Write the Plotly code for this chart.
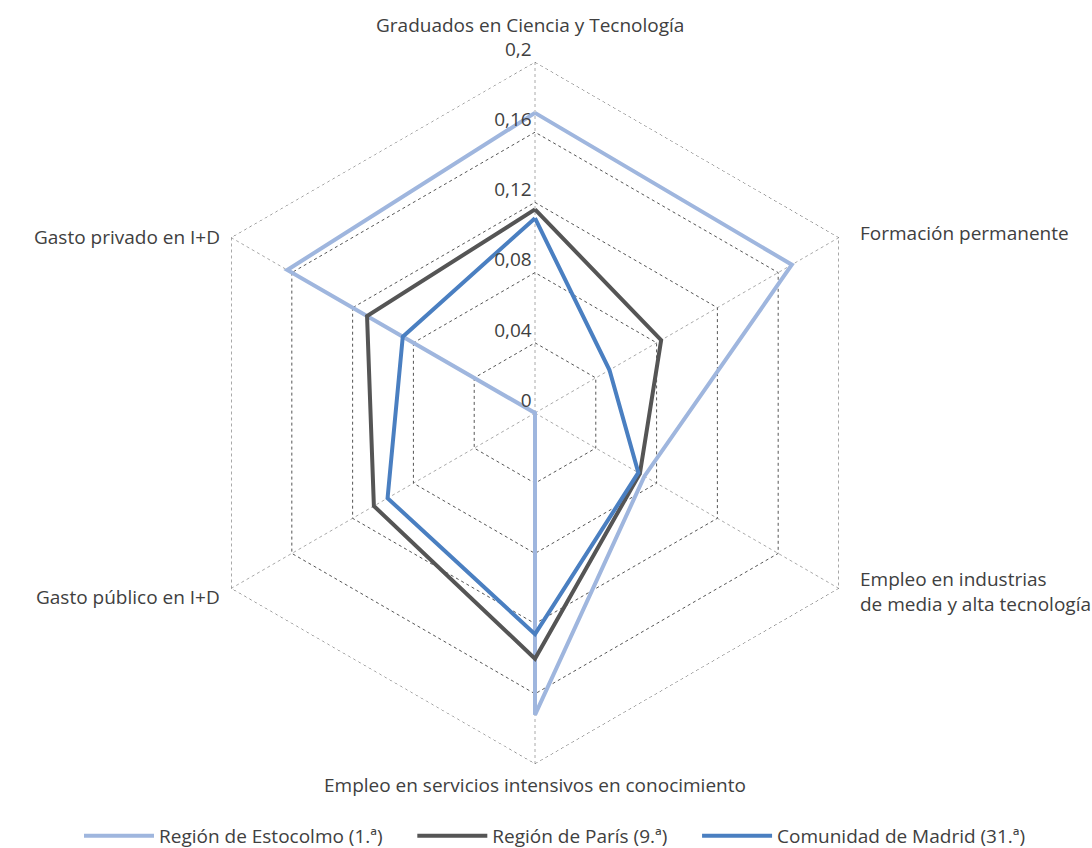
import plotly.graph_objects as go

categories = [
    "Graduados en Ciencia y Tecnología",
    "Formación permanente",
    "Empleo en industrias de media y alta tecnología",
    "Empleo en servicios intensivos en conocimiento",
    "Gasto público en I+D",
    "Gasto privado en I+D",
]
axis_labels = [
    "Graduados en Ciencia y Tecnología",
    "Formación permanente",
    "Empleo en industrias<br>de media y alta tecnología",
    "Empleo en servicios intensivos en conocimiento",
    "Gasto público en I+D",
    "Gasto privado en I+D",
]
series_names = ["Región de Estocolmo (1.ª)", "Región de París (9.ª)", "Comunidad de Madrid (31.ª)"]
estocolmo = [0.171, 0.169, 0.072, 0.172, 0.0, 0.163]
paris = [0.116, 0.083, 0.069, 0.140, 0.106, 0.1105]
madrid = [0.111, 0.049, 0.068, 0.126, 0.097, 0.087]
tick_vals = [0, 0.04, 0.08, 0.12, 0.16, 0.2]
tick_text = ["0", "0,04", "0,08", "0,12", "0,16", "0,2"]

colors = ["#9FB6DE", "#555555", "#4A7FC1"]
widths = [4, 4, 4]
FONT = "Open Sans"
TXT = "#404040"
FS = 19
PAD = "\u00a0" * 5  # extra gap between legend entries

fig = go.Figure()

# outer ring of the grid (at the top tick value), dotted like the other rings
fig.add_trace(go.Scatterpolar(
    r=[tick_vals[-1]] * (len(categories) + 1),
    theta=categories + categories[:1],
    mode="lines", showlegend=False, hoverinfo="skip",
    line=dict(color="#555555", width=1, dash="dot"),
))

for i, (name, vals, c, w) in enumerate(zip(series_names, [estocolmo, paris, madrid], colors, widths)):
    fig.add_trace(go.Scatterpolar(
        r=vals + vals[:1],
        theta=categories + categories[:1],
        mode="lines",
        name=name + (PAD if i < len(series_names) - 1 else ""),
        line=dict(color=c, width=w),
    ))

fig.update_layout(
    width=1092, height=848,
    margin=dict(l=0, r=0, t=0, b=0, autoexpand=False),
    paper_bgcolor="white",
    font=dict(family=FONT, size=FS, color=TXT),
    showlegend=True,
    legend=dict(orientation="h", x=555 / 1092, xanchor="center",
                y=1 - 836 / 848, yanchor="middle",
                font=dict(size=FS, color=TXT), itemwidth=70),
    polar=dict(
        domain=dict(x=[184 / 1092, 886 / 1092], y=[1 - 764 / 848, 1 - 62 / 848]),
        bgcolor="white",
        gridshape="linear",
        angularaxis=dict(
            rotation=90, direction="clockwise",
            showticklabels=False, ticks="",
            showline=False,
            gridcolor="#aaaaaa", griddash="dot", gridwidth=1,
        ),
        radialaxis=dict(
            range=[0, 0.2], angle=90, tickangle=90, side="counterclockwise",
            tickvals=tick_vals, ticktext=[t + "<br> " for t in tick_text],
            ticks="", showline=False,
            gridcolor="#555555", griddash="dot", gridwidth=1,
            tickfont=dict(size=FS, color=TXT),
        ),
    ),
)

ann = [
    (axis_labels[0], 530, 25, "center"),
    (axis_labels[1], 858, 233, "left"),
    (axis_labels[2], 858, 591, "left"),
    (axis_labels[3], 535, 785, "center"),
    (axis_labels[4], 222, 597, "right"),
    (axis_labels[5], 222, 237, "right"),
]
for text, x, y, anchor in ann:
    fig.add_annotation(text=text, x=x / 1092, y=1 - y / 848, xref="paper", yref="paper",
                       xanchor=anchor, yanchor="middle", align=anchor, showarrow=False,
                       font=dict(size=FS, color=TXT, family=FONT))

fig.write_html("out.html", config={"displayModeBar": False},
               post_script="document.body.style.margin='0';")
